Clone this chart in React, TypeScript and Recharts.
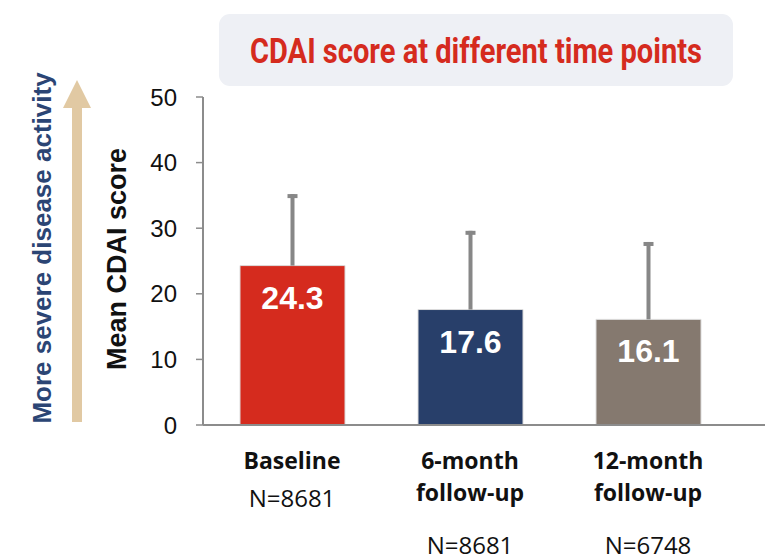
import { BarChart, Bar, XAxis, YAxis, LabelList, Cell } from 'recharts'

const categories = ['Baseline', '6-month follow-up', '12-month follow-up']
const tickLines = [['Baseline'], ['6-month', 'follow-up'], ['12-month', 'follow-up']]
const sampleSizes = ['N=8681', 'N=8681', 'N=6748']
const meanScores = [24.3, 17.6, 16.1]
const sdScores = [10.9, 12.0, 11.8]
const barColors = ['#D52B1E', '#283F6A', '#85796F']
const yTicks = [0, 10, 20, 30, 40, 50]

const chartData = categories.map((name, i) => ({
  name,
  mean: meanScores[i],
  sd: sdScores[i],
}))

const sans = "'Liberation Sans', Arial, sans-serif"
const labelFont = "'Open Sans', 'Noto Sans', sans-serif"

function XTick(props: any) {
  const { x, y, payload } = props
  const idx = categories.indexOf(payload.value)
  const lines = tickLines[idx] || []
  return (
    <g>
      {lines.map((t, i) => (
        <text
          key={i}
          x={x}
          y={y + 44 + i * 32}
          textAnchor='middle'
          fontFamily={labelFont}
          fontWeight='bold'
          fontSize={23}
          fill='#111'
        >
          {t}
        </text>
      ))}
      <text
        x={x}
        y={y + (lines.length === 1 ? 82 : 129)}
        textAnchor='middle'
        fontFamily={labelFont}
        fontSize={24}
        fill='#111'
      >
        {sampleSizes[idx]}
      </text>
    </g>
  )
}

function ValueLabel(props: any) {
  const { x, y, width, value } = props
  return (
    <text
      x={x + width / 2}
      y={y + 32}
      textAnchor='middle'
      dominantBaseline='central'
      fill='#fff'
      fontFamily={sans}
      fontWeight='bold'
      fontSize={32}
    >
      {value}
    </text>
  )
}

// upper SD whisker, stacked on top of the mean bar
function Whisker(props: any) {
  const { x, y, width, height } = props
  const cx = x + width / 2
  return (
    <g fill='#878787'>
      <rect x={cx - 2} y={y} width={4} height={height} />
      <rect x={cx - 5} y={y} width={10} height={4} />
    </g>
  )
}

export default function App() {
  return (
    <div style={{ position: 'absolute', left: 0, top: 0, width: 769, height: 559, background: '#fff' }}>
      <BarChart
        width={769}
        height={559}
        data={chartData}
        margin={{ top: 97, right: 4, left: 0, bottom: 0 }}
      >
        <XAxis
          dataKey='name'
          height={134}
          tickLine={false}
          tickSize={0}
          tickMargin={0}
          tick={<XTick />}
          interval={0}
          padding={{ left: 0, right: 28 }}
          axisLine={{ stroke: '#8c8c8c', strokeWidth: 2 }}
        />
        <YAxis
          width={203}
          domain={[0, 50]}
          ticks={yTicks}
          tickSize={7}
          tickMargin={19}
          tickLine={{ stroke: '#8c8c8c', strokeWidth: 1.5 }}
          axisLine={{ stroke: '#8c8c8c', strokeWidth: 2 }}
          tick={{ fill: '#111', fontSize: 24, fontFamily: sans }}
        />
        <Bar
          dataKey='mean'
          stackId='s'
          barSize={105}
          stroke='#dcdcdc'
          strokeWidth={1}
          isAnimationActive={false}
        >
          {chartData.map((d, i) => (
            <Cell key={d.name} fill={barColors[i]} />
          ))}
          <LabelList dataKey='mean' content={<ValueLabel />} />
        </Bar>
        <Bar
          dataKey='sd'
          stackId='s'
          barSize={105}
          fill='none'
          shape={<Whisker />}
          isAnimationActive={false}
        />
      </BarChart>
      <svg
        width={769}
        height={559}
        style={{ position: 'absolute', left: 0, top: 0, pointerEvents: 'none' }}
      >
        <rect x={219} y={14} width={514} height={72} rx={11} fill='#EEF0F5' />
        <text
          x={476}
          y={63}
          textAnchor='middle'
          fontFamily='Roboto, sans-serif'
          fontWeight='bold'
          fontSize={35}
          fill='#D52B1E'
          textLength={452}
          lengthAdjust='spacingAndGlyphs'
        >
          CDAI score at different time points
        </text>
        <polygon points='63,108 91,108 77,80' fill='#E1C9A3' />
        <rect x={72} y={107} width={10} height={315} fill='#E1C9A3' />
        <text
          transform='translate(42,248) rotate(-90)'
          textAnchor='middle'
          dominantBaseline='central'
          fontFamily={sans}
          fontWeight='bold'
          fontSize={26}
          fill='#2B4574'
        >
          More severe disease activity
        </text>
        <text
          transform='translate(117,259) rotate(-90)'
          textAnchor='middle'
          dominantBaseline='central'
          fontFamily={sans}
          fontWeight='bold'
          fontSize={27}
          fill='#111'
        >
          Mean CDAI score
        </text>
      </svg>
    </div>
  )
}
